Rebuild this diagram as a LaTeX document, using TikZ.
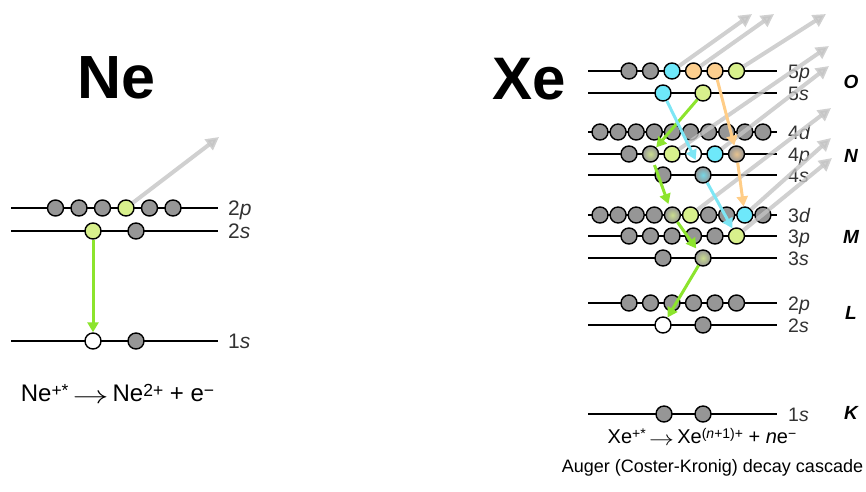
\documentclass[tikz,border=0pt]{standalone}
\usepackage{fontspec}
\usepackage{graphicx}
\setmainfont{Liberation Sans}
\usetikzlibrary{arrows.meta}
\definecolor{egray}{RGB}{150,150,150}
\definecolor{egreen}{RGB}{216,240,140}
\definecolor{ecyan}{RGB}{110,232,250}
\definecolor{eorange}{RGB}{252,206,142}
\definecolor{agreen}{RGB}{140,228,45}
\definecolor{acyan}{RGB}{125,230,245}
\definecolor{aorange}{RGB}{255,205,135}
\definecolor{agray}{RGB}{196,196,196}
\definecolor{txt}{RGB}{50,50,50}
\newcommand{\mysupr}[3]{\raisebox{#2}{\fontsize{#1}{#1}\selectfont #3}}
\newcommand{\myarr}[1]{\raisebox{-0.1em}{\scalebox{#1}[1]{$\rightarrow$}}}
\tikzset{
  lvl/.style={draw=black, line width=1.5pt},
  el/.style={circle, draw=black, line width=1.4pt, minimum size=16pt, inner sep=0pt, fill=egray},
  elw/.style={el, fill=white},
  elg/.style={el, fill=egreen},
  elc/.style={el, fill=ecyan},
  elo/.style={el, fill=eorange},
  elgs/.style={circle, draw=black, line width=1.4pt, minimum size=16pt, inner sep=0pt, inner color=egreen!80!egray, outer color=egray},
  elcs/.style={circle, draw=black, line width=1.4pt, minimum size=16pt, inner sep=0pt, inner color=ecyan!80!egray, outer color=egray},
  elos/.style={circle, draw=black, line width=1.4pt, minimum size=16pt, inner sep=0pt, inner color=eorange!80!egray, outer color=egray},
  nlab/.style={text=txt, font=\fontsize{21}{24}\selectfont, inner sep=0pt, anchor=base west},
  lab/.style={text=txt, font=\fontsize{19.5}{22}\selectfont, inner sep=0pt, anchor=base west},
  shell/.style={text=black, font=\fontsize{19}{22}\selectfont\bfseries\itshape, inner sep=0pt},
  garr/.style={draw=agray, line width=4pt, opacity=0.8, -{Triangle[length=13pt,width=13pt]}},
  carr/.style={line width=3pt, -{Triangle[length=10pt,width=11pt]}},
}
\begin{document}
\begin{tikzpicture}[x=1pt,y=-1pt]
\useasboundingbox (0,0) rectangle (866,491);
% ---------------- Ne ----------------
\node[font=\fontsize{61}{61}\selectfont\bfseries, inner sep=0pt] (ne) at (116,77.5) {Ne};
\draw[lvl] (11,208) -- (218,208);
\draw[lvl] (11,231) -- (218,231);
\draw[lvl] (11,341) -- (218,341);
\foreach \i/\s in {1/el,2/el,3/el,4/elg,5/el,6/el}
  \node[\s] (n2p\i) at ({55.5+23.5*(\i-1)},208) {};
\node[elg] (n2s1) at (93,231) {};
\node[el] (n2s2) at (136,231) {};
\node[elw] (n1s1) at (93,341) {};
\node[el] (n1s2) at (136,341) {};
\node[nlab] (nl2p) at (228,215.5) {2\textit{p}};
\node[nlab] (nl2s) at (228,238.5) {2\textit{s}};
\node[nlab] (nl1s) at (228,348.5) {1\textit{s}};
\coordinate (nt) at (219,137);
\draw[garr] (n2p4) -- (nt);
\draw[carr, agreen] (n2s1) -- (n1s1);
\node[anchor=base, font=\fontsize{24}{28}\selectfont, inner sep=0pt] (neq) at (117.5,401)
  {Ne\mysupr{17.5}{5pt}{+*}\,\myarr{1.45}\,Ne\mysupr{17.5}{5pt}{2+} + e\mysupr{17.5}{5pt}{−}};
% ---------------- Xe ----------------
\node[font=\fontsize{60}{60}\selectfont\bfseries, inner sep=0pt] (xe) at (529,79) {Xe};
\foreach \n/\yy in {5p/71,5s/93,4d/132,4p/154,4s/175,3d/215,3p/236,3s/258,2p/303,2s/325,1s/414}
  \draw[lvl] (588,\yy) -- (777,\yy);
\foreach \d/\l/\yy in {5/p/71,5/s/93,4/d/132,4/p/154,4/s/175,3/d/215,3/p/236,3/s/258,2/p/303,2/s/325,1/s/414}
  \node[lab] (xl\d\l) at (788,\yy+7) {\d\textit{\l}};
\foreach \t/\yy in {O/82,N/156,M/237,L/313,K/413}
  \node[shell] (sh\t) at (851,\yy) {\t};
% p levels
\foreach \i/\s in {1/el,2/el,3/elc,4/elo,5/elo,6/elg}
  \node[\s] (x5p\i) at ({629+21.5*(\i-1)},71) {};
\foreach \i/\s in {1/el,2/elgs,3/elg,4/elw,5/elc,6/elos}
  \node[\s] (x4p\i) at ({629+21.5*(\i-1)},154) {};
\foreach \i/\s in {1/el,2/el,3/el,4/el,5/el,6/elg}
  \node[\s] (x3p\i) at ({629+21.5*(\i-1)},236) {};
\foreach \i/\s in {1/el,2/el,3/el,4/el,5/el,6/el}
  \node[\s] (x2p\i) at ({629+21.5*(\i-1)},303) {};
% s levels
\node[elc] (x5s1) at (663,93) {};
\node[elg] (x5s2) at (703,93) {};
\node[el] (x4s1) at (663,175) {};
\node[elcs] (x4s2) at (703,175) {};
\node[el] (x3s1) at (663,258) {};
\node[elgs] (x3s2) at (703,258) {};
\node[elw] (x2s1) at (663,325) {};
\node[el] (x2s2) at (703,325) {};
\node[el] (x1s1) at (664,414) {};
\node[el] (x1s2) at (703,414) {};
% d levels
\foreach \i in {1,...,10}
  \node[el] (x4d\i) at ({600+18.1*(\i-1)},132) {};
\foreach \i/\s in {1/el,2/el,3/el,4/el,5/elgs,6/elg,7/el,8/el,9/elc,10/el}
  \node[\s] (x3d\i) at ({600+18.1*(\i-1)},215) {};
% emitted electrons
\coordinate (t1) at (752,14);
\coordinate (t2) at (774,14);
\coordinate (t3) at (826,14);
\coordinate (t4) at (829,46);
\coordinate (t5) at (829,66);
\coordinate (t6) at (831,108);
\coordinate (t7) at (831,138);
\coordinate (t8) at (832,158);
\draw[garr] (x5p3) -- (t1);
\draw[garr] (x5p4) -- (t2);
\draw[garr] (x5p6) -- (t3);
\draw[garr] (x4p3) -- (t4);
\draw[garr] (x4p5) -- (t5);
\draw[garr] (x3d6) -- (t6);
\draw[garr] (x3d9) -- (t7);
\draw[garr] (x3p6) -- (t8);
% transitions
\draw[carr, agreen] (x5s2) -- (x4p2);
\draw[carr, agreen, shorten <=3pt, shorten >=3pt] (x4p2) -- (x3d5);
\draw[carr, agreen, shorten >=3pt] (x3d5) -- (x3s2);
\draw[carr, agreen] (x3s2) -- (x2s1);
\draw[carr, acyan, shorten >=8pt] (x5s1) -- (x4s2);
\draw[carr, acyan] (x4s2) -- (x3p6);
\draw[carr, aorange] (x5p5) -- (x4p6);
\draw[carr, aorange] (x4p6) -- (x3d9);
\node[anchor=base, font=\fontsize{20}{24}\selectfont, inner sep=0pt] (xeq) at (702,443)
  {Xe\mysupr{14}{4.5pt}{+*}\,\myarr{1.2}\,Xe\mysupr{14}{4.5pt}{(\textit{n}+1)+} + \textit{n}e\mysupr{14}{4.5pt}{−}};
\node[anchor=base, font=\fontsize{18}{22}\selectfont, inner sep=0pt] (cap) at (712.5,472)
  {Auger (Coster-Kronig) decay cascade};
\end{tikzpicture}
\end{document}
